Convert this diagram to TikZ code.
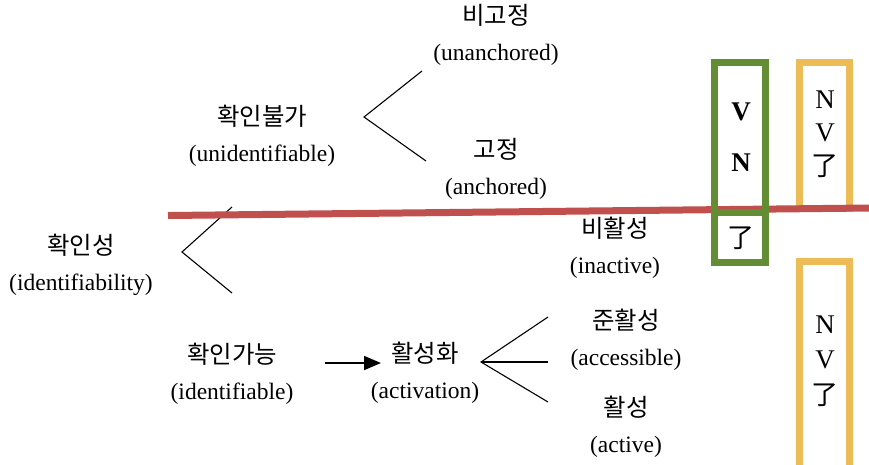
\documentclass[tikz,border=0pt]{standalone}
\usepackage{fontspec}
\setmainfont{Liberation Serif}
\newfontfamily\krfont[Scale=1.04]{Noto Sans CJK KR}
\newfontfamily\zhfont{Noto Sans CJK SC}
\usetikzlibrary{arrows.meta}
\definecolor{barred}{RGB}{192,80,77}
\definecolor{boxgreen}{RGB}{99,141,52}
\definecolor{boxgold}{RGB}{236,189,86}
\tikzset{
  lbl/.style={align=center, inner sep=0pt, font=\fontsize{23.5}{36}\selectfont},
  sym/.style={inner sep=0pt, font=\fontsize{27}{30}\selectfont},
  bsym/.style={inner sep=0pt, font=\fontsize{27}{30}\selectfont\bfseries},
  fork/.style={line width=1.1pt, black},
  gbox/.style={draw=boxgreen, line width=7pt},
  obox/.style={draw=boxgold, line width=7pt},
  bar/.style={draw=barred, line width=7pt},
}
\begin{document}
\begin{tikzpicture}[x=1pt,y=-1pt]
\useasboundingbox (0,0) rectangle (869,464);
\clip (0,0) rectangle (869,464);

% labels
\node[lbl] (unanch) at (496,35) {{\krfont 비고정}\\(unanchored)};
\node[lbl] (unident) at (262,136) {{\krfont 확인불가}\\(unidentifiable)};
\node[lbl] (anch) at (496,169) {{\krfont 고정}\\(anchored)};
\node[lbl] (identy) at (81,265) {{\krfont 확인성}\\(identifiability)};
\node[lbl] (inact) at (615,248) {{\krfont 비활성}\\(inactive)};
\node[lbl] (ident) at (232,374) {{\krfont 확인가능}\\(identifiable)};
\node[lbl] (activ) at (425,373) {{\krfont 활성화}\\(activation)};
\node[lbl] (access) at (626,340) {{\krfont 준활성}\\(accessible)};
\node[lbl] (active) at (626,427) {{\krfont 활성}\\(active)};

% fork points
\coordinate (fa) at (364,117);
\coordinate (fa1) at (422,71);
\coordinate (fa2) at (426,161);
\coordinate (fb) at (182,252);
\coordinate (fb1) at (232,207);
\coordinate (fb2) at (232,293);
\coordinate (fc) at (481,362);
\coordinate (fc1) at (548,317);
\coordinate (fc2) at (548,362);
\coordinate (fc3) at (548,402);
\coordinate (ar1) at (325,363);
\coordinate (ar2) at (381,363);

\draw[fork] (fa1) -- (fa) -- (fa2);
\draw[fork] (fb1) -- (fb) -- (fb2);
\draw[fork] (fc1) -- (fc) -- (fc3);
\draw[fork] (fc) -- (fc2);
\draw[line width=1.8pt, -{Triangle[length=17pt,width=14pt]}] (ar1) -- (ar2);

% gold boxes
\draw[obox] (799.5,62.5) rectangle (849.5,208.5);
\draw[obox] (799.5,261.5) rectangle (849.5,480);

% red dividing bar
\coordinate (barL) at (168,215.5);
\coordinate (barR) at (869,208);
\draw[bar] (barL) -- (barR);

% green box
\draw[gbox] (714.5,62.5) rectangle (765.5,262.5);
\draw[gbox] (714.5,212.5) -- (765.5,212.5);

% box contents
\node[bsym] (gv) at (741,112) {V};
\node[bsym] (gn) at (741,163) {N};
\node[sym] (gle) at (741,238) {\zhfont 了};
\node[sym] (on1) at (825,100) {N};
\node[sym] (ov1) at (825,133) {V};
\node[sym] (ol1) at (825,166) {\zhfont 了};
\node[sym] (on2) at (825,325) {N};
\node[sym] (ov2) at (825,360) {V};
\node[sym] (ol2) at (825,395) {\zhfont 了};
\end{tikzpicture}
\end{document}
